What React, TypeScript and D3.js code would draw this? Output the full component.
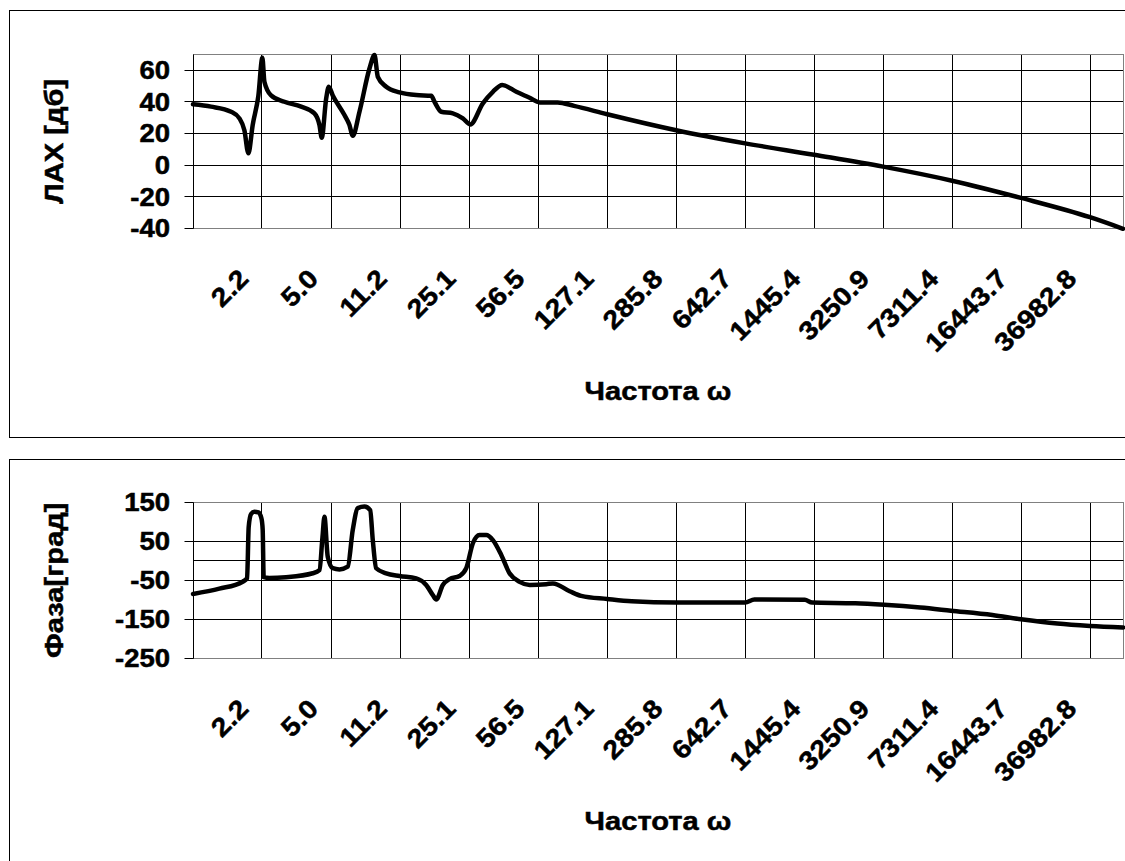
import React, { useRef, useEffect } from 'react';
import * as d3 from 'd3';

// category labels of the frequency axis
const freqLabels = [2.2, 5.0, 11.2, 25.1, 56.5, 127.1, 285.8, 642.7, 1445.4, 3250.9, 7311.4, 16443.7, 36982.8];

// ЛАХ (dB)
const lahFreq = [
  0.978, 1.209, 1.53, 1.687, 1.789, 1.875, 1.972, 2.109, 2.21, 2.263, 2.448, 2.863, 3.485, 4.074,
  4.322, 4.44, 4.676, 4.821, 5.053, 5.798, 6.149, 6.392, 6.918, 7.781, 8.253, 8.579, 9.467, 11.07,
  13.47, 16.07, 16.7, 18.08, 20.72, 23.3, 25.43, 29.49, 33.17, 37.04, 43.68, 51.07, 57.46, 70.99,
  86.07, 127.1, 285.8, 642.7, 1445.4, 3250.9, 7311.4, 16443.7, 36982.8, 54500,
];
const lahDb = [
  38.4, 36.9, 33.7, 29.5, 22, 7.4, 25.3, 44, 67.8, 52.7, 44, 40, 36.9, 32.7,
  25.3, 17.3, 42, 49.5, 44, 31.6, 25.3, 18.5, 33.7, 61, 69.5, 55.8, 49.5, 45.9,
  44.2, 43.8, 40, 33.7, 32.7, 29.5, 25.7, 39, 46.3, 50.6, 46.3, 42.5, 39.6, 39.6,
  37.4, 32.1, 22, 13.7, 6.5, -1, -9.9, -20.8, -33, -40.3,
];

// phase (deg)
const phaseFreq = [
  0.978, 1.333, 1.753, 1.846, 1.882, 1.935, 2.012, 2.109, 2.185, 2.218, 2.244, 2.4, 2.921, 3.993,
  4.322, 4.477, 4.583, 4.764, 5.053, 5.467, 6.027, 6.392, 6.782, 7.335, 7.844, 8.088, 8.418, 9.467,
  11.07, 13.47, 15.15, 16.38, 17.05, 18.42, 19.93, 22.42, 24.26, 26.22, 28.36, 30.69, 33.17, 36.6,
  40.34, 45.4, 51.07, 62.15, 67.16, 81.74, 93.68, 127.1, 169.4, 285.8, 642.7, 716.6, 1296, 1412.6,
  2347, 3293, 5034, 7215, 11741, 16443.7, 25192, 36982.8, 54500,
];
const phaseDeg = [
  -85, -71.5, -53.6, -45, 87, 120, 126, 124, 109, 80, -42, -44, -42, -32,
  -24, 60, 113, 10.5, -19, -22, -15, 79, 135, 139, 130, 53, -19, -32,
  -39, -45, -62, -88, -99, -62, -47, -39, -19, 45, 66, 66, 53, 15,
  -32, -54, -62, -60, -58, -78, -90, -98, -104, -107, -107, -99, -100, -107,
  -109, -113, -120, -128, -139, -150, -161, -167, -171,
];

const lahTicks = [-40, -20, 0, 20, 40, 60];
const phaseTicks = [-250, -150, -50, 50, 150];

const FONT = '"Liberation Sans", Arial, sans-serif';
const plotLeft = 193;
const plotRight = 1123;
const stretch = 'scale(1.1,1)';

const panels = [
  {
    boxTop: 10, boxBottom: 437, plotTop: 54.3, plotBottom: 228.3,
    yDomain: [-40, 70], yTicks: lahTicks, yTitle: 'ЛАХ [дб]', freq: lahFreq, vals: lahDb,
  },
  {
    boxTop: 459, boxBottom: 900, plotTop: 502.3, plotBottom: 658.3,
    yDomain: [-250, 150], yTicks: phaseTicks, yTitle: 'Фаза[град]', freq: phaseFreq, vals: phaseDeg,
  },
];

const crisp = (v: number) => Math.floor(v) + 0.5;

const App: React.FC = () => {
  const svgRef = useRef<SVGSVGElement | null>(null);

  useEffect(() => {
    const svg = d3.select(svgRef.current!);
    svg.selectAll('*').remove();

    const x = d3.scaleLog()
      .domain([lahFreq[0], lahFreq[lahFreq.length - 1]])
      .range([plotLeft, plotRight]);

    panels.forEach((p) => {
      const y = d3.scaleLinear().domain(p.yDomain).range([p.plotBottom, p.plotTop]);
      const g = svg.append('g');

      // chart box
      g.append('rect')
        .attr('x', 9.5).attr('y', p.boxTop + 0.5)
        .attr('width', 1200).attr('height', p.boxBottom - p.boxTop)
        .attr('fill', 'white').attr('stroke', '#000');

      const top = crisp(p.plotTop);
      const bottom = crisp(p.plotBottom);
      const left = plotLeft + 0.5;
      const right = crisp(plotRight);

      // gridlines
      g.selectAll('line.hgrid')
        .data(p.yTicks.filter((t) => t > p.yDomain[0] && t < p.yDomain[1]))
        .join('line')
        .attr('x1', left).attr('x2', right)
        .attr('y1', (d) => crisp(y(d))).attr('y2', (d) => crisp(y(d)))
        .attr('stroke', '#000');

      g.selectAll('line.vgrid')
        .data(freqLabels)
        .join('line')
        .attr('x1', (d) => crisp(x(d))).attr('x2', (d) => crisp(x(d)))
        .attr('y1', top).attr('y2', bottom)
        .attr('stroke', '#000');

      // plot area border
      g.append('rect')
        .attr('x', left).attr('y', top)
        .attr('width', right - left).attr('height', bottom - top)
        .attr('fill', 'none').attr('stroke', '#808080');

      // category axis crosses at 0
      g.append('line')
        .attr('x1', left).attr('x2', right)
        .attr('y1', crisp(y(0))).attr('y2', crisp(y(0)))
        .attr('stroke', '#000');

      // value axis
      g.append('line')
        .attr('x1', left).attr('x2', left)
        .attr('y1', top).attr('y2', bottom)
        .attr('stroke', '#000');

      g.selectAll('line.ytick')
        .data(p.yTicks)
        .join('line')
        .attr('x1', left - 9).attr('x2', left)
        .attr('y1', (d) => crisp(y(d))).attr('y2', (d) => crisp(y(d)))
        .attr('stroke', '#000');

      const label = (sel: any, size: number) => sel
        .attr('font-family', FONT).attr('font-weight', 'bold').attr('font-size', size)
        .attr('fill', '#000').attr('stroke', '#000').attr('stroke-width', 0.5);

      g.selectAll('text.ylab')
        .data(p.yTicks)
        .join('text')
        .attr('transform', (d) => `translate(170,${y(d)}) ${stretch}`)
        .attr('dy', '0.36em')
        .attr('text-anchor', 'end')
        .call(label, 25)
        .text((d) => String(d));

      g.selectAll('text.xlab')
        .data(freqLabels)
        .join('text')
        .attr('transform', (d) => `translate(${x(d) - 12},${p.plotBottom + 52}) rotate(-45) ${stretch}`)
        .attr('text-anchor', 'end')
        .call(label, 26)
        .text((d) => d.toFixed(1));

      // titles
      g.append('text')
        .attr('transform', `translate(${(plotLeft + plotRight) / 2},${p.plotBottom + 172}) scale(1.12,1)`)
        .attr('text-anchor', 'middle')
        .call(label, 26)
        .text('Частота ω');

      g.append('text')
        .attr('transform', `translate(63,${(p.plotTop + p.plotBottom) / 2}) rotate(-90) scale(1.12,1)`)
        .attr('text-anchor', 'middle')
        .call(label, 26)
        .text(p.yTitle);

      // response curve
      const line = d3.line<number>()
        .x((_, i) => x(p.freq[i]))
        .y((d) => y(d))
        .curve(d3.curveMonotoneX);

      g.append('path')
        .datum(p.vals)
        .attr('fill', 'none')
        .attr('stroke', '#000')
        .attr('stroke-width', 4.5)
        .attr('stroke-linejoin', 'round')
        .attr('stroke-linecap', 'round')
        .attr('d', line);
    });
  }, []);

  return (
    <svg
      ref={svgRef}
      width={1125}
      height={861}
      style={{ position: 'absolute', left: 0, top: 0, background: '#fff' }}
    />
  );
};

export default App;
